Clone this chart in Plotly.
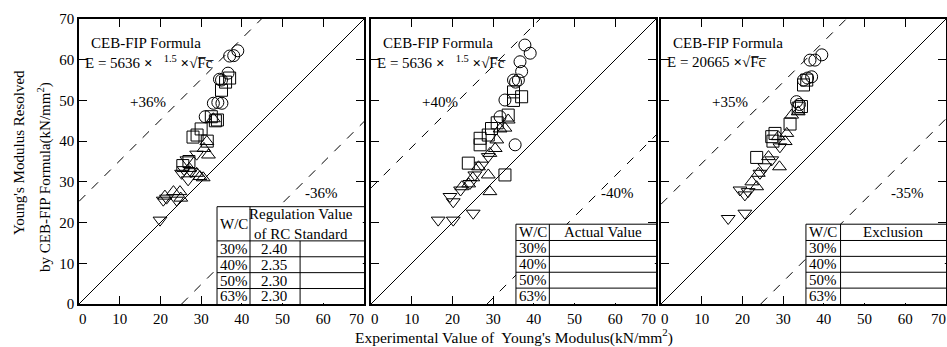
import plotly.graph_objects as go

W, H = 947, 347
FONT = "Liberation Serif"

# ---------------- data ----------------
panel_pct = ["36%", "40%", "35%"]
panel_offsets = [25.2, 28.5, 24.5]
formulas = [
    "E = 5636 <b>×</b>   <sup>1.5</sup> <b>×</b>√F̅c̅",
    "E = 5636 <b>×</b>   <sup>1.5</sup> <b>×</b>√F̅c̅",
    "E = 20665 <b>×</b>√F̅c̅",
]
wc_labels = ["30%", "40%", "50%", "63%"]
table_heads = ["Regulation Value<br>of RC Standard", "Actual Value", "Exclusion"]
regulation_values = ["2.40", "2.35", "2.30", "2.30"]
tick_vals = [0, 10, 20, 30, 40, 50, 60, 70]
x_tick_text = ["\u20020", "10", "20", "30", "40", "50", "60", "70\u2002\u2002"]
y_tick_text = ["0", "10", "20", "30", "40", "50", "60", "70"]

# panel 1
p1_c30_x = [37.0, 38.0, 39.0, 36.6, 35.0, 34.5, 33.0, 34.1, 35.1, 31.0]
p1_c30_y = [60.9, 61.0, 62.2, 56.7, 55.0, 55.2, 49.3, 49.5, 49.3, 46.0]
p1_s40_x = [37.0, 36.0, 35.0, 34.0, 32.5, 33.5, 30.0, 28.0, 29.0, 31.5, 25.5, 27.0]
p1_s40_y = [55.5, 54.5, 52.5, 45.2, 46.0, 45.0, 43.0, 41.0, 41.5, 40.0, 34.0, 35.0]
p1_t50_x = [33.0, 31.4, 30.7, 31.8, 28.9, 29.7, 27.1, 23.2, 24.8, 21.1, 25.0, 30.5]
p1_t50_y = [45.5, 39.9, 38.2, 36.6, 32.1, 31.3, 33.3, 27.6, 27.6, 26.5, 26.0, 31.0]
p1_d63_x = [28.9, 26.5, 25.2, 26.8, 20.7, 24.0, 19.9, 21.5, 27.5, 25.8]
p1_d63_y = [36.8, 35.4, 32.1, 30.5, 25.5, 25.5, 20.6, 26.0, 32.5, 33.0]

# panel 2
p2_c30_x = [37.8, 39.1, 36.6, 37.0, 36.2, 35.0, 32.9, 31.7, 35.4, 35.5]
p2_c30_y = [63.6, 61.6, 59.5, 57.1, 55.0, 55.0, 50.1, 46.0, 39.1, 54.5]
p2_s40_x = [35.0, 35.0, 37.0, 33.7, 29.6, 28.8, 26.8, 26.8, 23.9, 32.9, 31.0]
p2_s40_y = [52.1, 50.0, 50.9, 46.4, 43.1, 41.5, 40.7, 39.1, 34.6, 31.7, 44.5]
p2_t50_x = [33.7, 32.9, 31.7, 30.9, 30.5, 29.2, 28.8, 29.2, 26.4, 22.3, 24.0, 25.0]
p2_t50_y = [45.2, 43.2, 43.0, 40.3, 38.2, 37.0, 31.7, 27.6, 33.7, 28.8, 29.5, 31.0]
p2_d63_x = [28.8, 27.2, 25.5, 24.3, 19.4, 20.2, 16.5, 20.2, 25.1, 22.0]
p2_d63_y = [36.2, 34.1, 31.7, 29.6, 26.4, 25.1, 20.6, 20.6, 22.3, 28.0]

# panel 3
p3_c30_x = [36.6, 37.8, 39.5, 37.0, 35.0, 33.3, 34.0, 36.0]
p3_c30_y = [59.9, 59.9, 61.2, 55.8, 55.0, 49.7, 49.0, 55.5]
p3_s40_x = [35.0, 35.8, 33.7, 31.7, 28.0, 27.2, 27.5, 23.5, 34.5]
p3_s40_y = [53.8, 55.0, 48.1, 44.2, 41.9, 41.1, 40.0, 36.0, 48.5]
p3_t50_x = [33.7, 32.1, 30.9, 30.5, 28.8, 29.1, 26.4, 22.3, 23.5, 23.9]
p3_t50_y = [47.2, 46.4, 41.9, 39.9, 41.1, 33.7, 36.2, 30.0, 28.8, 32.1]
p3_d63_x = [29.2, 27.2, 25.5, 24.3, 19.4, 20.6, 16.5, 20.6, 21.4]
p3_d63_y = [38.6, 35.4, 33.7, 32.1, 28.0, 26.8, 21.0, 22.3, 27.6]

panels = [
    [(p1_c30_x, p1_c30_y), (p1_s40_x, p1_s40_y), (p1_t50_x, p1_t50_y), (p1_d63_x, p1_d63_y)],
    [(p2_c30_x, p2_c30_y), (p2_s40_x, p2_s40_y), (p2_t50_x, p2_t50_y), (p2_d63_x, p2_d63_y)],
    [(p3_c30_x, p3_c30_y), (p3_s40_x, p3_s40_y), (p3_t50_x, p3_t50_y), (p3_d63_x, p3_d63_y)],
]
symbols = ["circle-open", "square-open", "triangle-up-open", "triangle-down-open"]

# ---------------- layout geometry ----------------
px_domains = [(79, 364), (371, 656), (661, 946)]
tables = [
    dict(x0=33.9, cols=[42.0, 54.3], top=23.9, hb=15.5, rows=[11.6, 7.7, 3.8]),
    dict(x0=35.6, cols=[43.8], top=19.6, hb=15.6, rows=[11.7, 7.8, 3.9]),
    dict(x0=35.6, cols=[44.1], top=19.6, hb=15.6, rows=[11.7, 7.8, 3.9]),
]

fig = go.Figure()
shapes = []
annotations = []
LW = 1.6
TXT = dict(family=FONT, size=15, color="black")

for i in range(3):
    sfx = "" if i == 0 else str(i + 1)
    xa, ya = "x" + sfx, "y" + sfx
    off = panel_offsets[i]
    # reference lines
    fig.add_trace(go.Scatter(x=[0, 70], y=[0, 70], mode="lines", xaxis=xa, yaxis=ya,
                             line=dict(color="black", width=1), showlegend=False, hoverinfo="skip"))
    fig.add_trace(go.Scatter(x=[0, 70 - off], y=[off, 70], mode="lines", xaxis=xa, yaxis=ya,
                             line=dict(color="black", width=1, dash="9px,9px"), showlegend=False, hoverinfo="skip"))
    fig.add_trace(go.Scatter(x=[off, 70], y=[0, 70 - off], mode="lines", xaxis=xa, yaxis=ya,
                             line=dict(color="black", width=1, dash="9px,9px"), showlegend=False, hoverinfo="skip"))
    for (xs, ys), sym, lab in zip(panels[i], symbols, wc_labels):
        fig.add_trace(go.Scatter(x=xs, y=ys, mode="markers", xaxis=xa, yaxis=ya, name=lab,
                                 marker=dict(symbol=sym, size=12, color="black", line=dict(width=1)),
                                 showlegend=False))
    d0, d1 = px_domains[i]
    fig.layout["xaxis" + sfx] = dict(
        domain=[d0 / W, d1 / W], range=[0, 70], anchor=ya, tickvals=tick_vals, ticktext=x_tick_text,
        ticks="inside", ticklen=8, tickwidth=1, tickcolor="black", mirror="ticks", automargin=False,
        ticklabeloverflow="allow",
        showline=True, linecolor="black", linewidth=LW, showgrid=False, zeroline=False,
        tickfont=TXT)
    fig.layout["yaxis" + sfx] = dict(
        domain=[0, 1], range=[0, 70], anchor=xa, tickvals=tick_vals, ticktext=y_tick_text,
        ticks="inside", ticklen=8, tickwidth=1, tickcolor="black", mirror="ticks", automargin=False,
        ticklabeloverflow="allow",
        showline=True, linecolor="black", linewidth=LW, showgrid=False, zeroline=False,
        showticklabels=(i == 0), tickfont=TXT)

    # formula text
    annotations.append(dict(x=2.5, y=64.2, xref=xa, yref=ya, text="CEB-FIP Formula", showarrow=False,
                            xanchor="left", yanchor="middle", font=TXT))
    annotations.append(dict(x=1.0, y=59.5, xref=xa, yref=ya, text=formulas[i], showarrow=False,
                            xanchor="left", yanchor="middle", font=TXT))
    # percentage labels
    annotations.append(dict(x=17.0, y=49.6, xref=xa, yref=ya, text="+" + panel_pct[i], showarrow=False,
                            xanchor="center", yanchor="middle", font=TXT))
    annotations.append(dict(x=55.0 if i == 0 else 56.0, y=27.3, xref=xa, yref=ya, text="-" + panel_pct[i],
                            showarrow=False, xanchor="left", yanchor="middle", font=TXT))

    # table
    t = tables[i]
    shapes.append(dict(type="rect", xref=xa, yref=ya, x0=t["x0"], x1=69.7, y0=0.25, y1=t["top"],
                       fillcolor="white", line=dict(width=0), layer="above"))
    shapes.append(dict(type="line", xref=xa, yref=ya, x0=t["x0"], x1=70, y0=t["top"], y1=t["top"],
                       line=dict(color="black", width=1), layer="above"))
    shapes.append(dict(type="line", xref=xa, yref=ya, x0=t["x0"], x1=t["x0"], y0=0, y1=t["top"],
                       line=dict(color="black", width=1), layer="above"))
    shapes.append(dict(type="line", xref=xa, yref=ya, x0=t["cols"][0], x1=t["cols"][0], y0=0, y1=t["top"],
                       line=dict(color="black", width=1), layer="above"))
    for c in t["cols"][1:]:
        shapes.append(dict(type="line", xref=xa, yref=ya, x0=c, x1=c, y0=0, y1=t["hb"],
                           line=dict(color="black", width=1), layer="above"))
    for r in [t["hb"]] + t["rows"]:
        shapes.append(dict(type="line", xref=xa, yref=ya, x0=t["x0"], x1=70, y0=r, y1=r,
                           line=dict(color="black", width=1), layer="above"))
    row_edges = [t["hb"]] + t["rows"] + [0]
    annotations.append(dict(x=(t["x0"] + t["cols"][0]) / 2, y=(t["top"] + t["hb"]) / 2, xref=xa, yref=ya,
                            text="W/C", showarrow=False, xanchor="center", yanchor="middle", font=TXT))
    annotations.append(dict(x=(t["cols"][0] + 70) / 2 - (1.5 if i == 0 else 0), y=(t["top"] + t["hb"]) / 2,
                            xref=xa, yref=ya, text=table_heads[i], showarrow=False,
                            xanchor="center", yanchor="middle", font=TXT))
    for k, lab in enumerate(wc_labels):
        yc = (row_edges[k] + row_edges[k + 1]) / 2
        annotations.append(dict(x=t["x0"] + 0.2, y=yc, xref=xa, yref=ya, text=lab, showarrow=False,
                                xanchor="left", yanchor="middle", font=TXT))
        if i == 0:
            annotations.append(dict(x=t["cols"][0] + 2.2, y=yc, xref=xa, yref=ya, text=regulation_values[k],
                                    showarrow=False, xanchor="left", yanchor="middle", font=TXT))

# axis titles
PH = 304 - 19
annotations.append(dict(x=19 / W, y=(304 - 153) / PH, xref="paper", yref="paper",
                        text="Young's Modulus Resolved", textangle=-90, showarrow=False,
                        xanchor="center", yanchor="middle", font=TXT))
annotations.append(dict(x=45 / W, y=(304 - 177) / PH, xref="paper", yref="paper",
                        text="by CEB-FIP Formula(kN/mm<sup>2</sup>)", textangle=-90, showarrow=False,
                        xanchor="center", yanchor="middle", font=TXT))
annotations.append(dict(x=514 / W, y=(304 - 336) / PH, xref="paper", yref="paper",
                        text="Experimental Value of  Young's Modulus(kN/mm<sup>2</sup>)", showarrow=False,
                        xanchor="center", yanchor="middle", font=dict(family=FONT, size=15.5, color="black")))

fig.update_layout(
    width=W, height=H, margin=dict(l=0, r=0, t=19, b=43, autoexpand=False),
    paper_bgcolor="white", plot_bgcolor="white",
    shapes=shapes, annotations=annotations, showlegend=False,
)
fig.write_html("out.html")
